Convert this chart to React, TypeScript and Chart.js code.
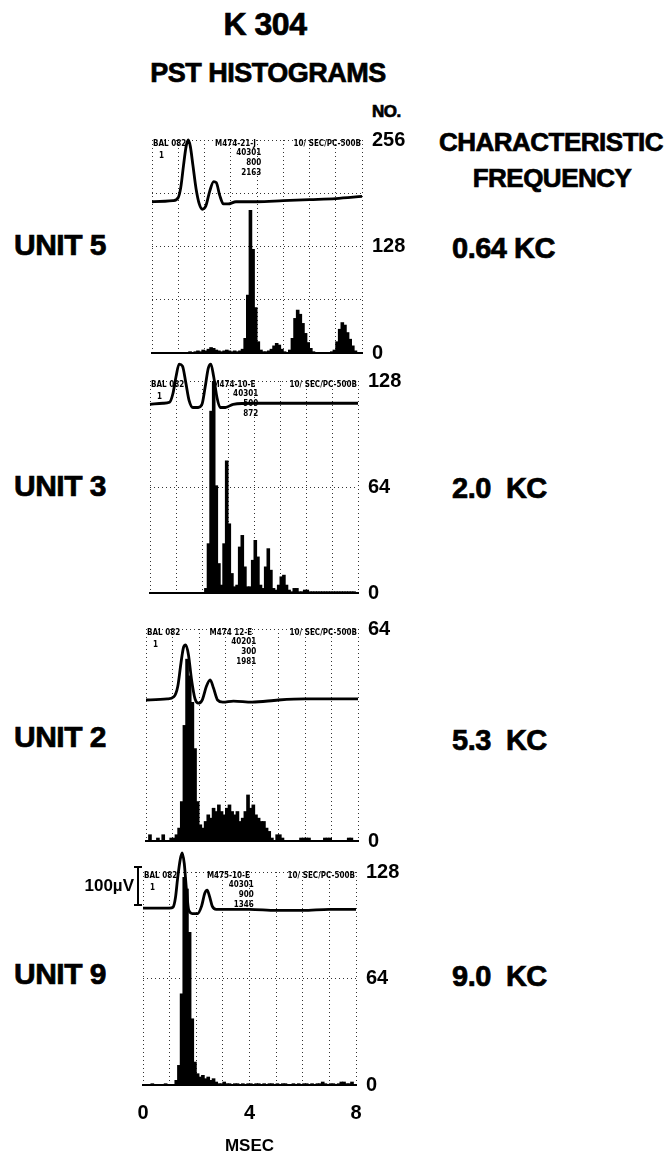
import React, { useEffect, useRef } from "react";
import { Chart, registerables } from "chart.js";

Chart.register(...registerables);

const FONT = '"Liberation Sans", Arimo, Arial, sans-serif';
const SMALL_FONT = '"Liberation Sans Narrow", "DejaVu Sans Condensed", "Liberation Sans", sans-serif';

// ---------- data ----------
const BIN_MS = 0.1; // histogram bin width (msec)
const TIME_TICKS_MS = [0, 1, 2, 3, 4, 5, 6, 7, 8];
const TIME_LABELS_MS = [0, 4, 8];
const X_TITLE = "MSEC";

const UNIT_NAMES = ["UNIT 5", "UNIT 3", "UNIT 2", "UNIT 9"];
const CF_LABELS = ["0.64 KC", "2.0  KC", "5.3  KC", "9.0  KC"];
const Y_MAX = [256, 128, 64, 128];
const Y_LABELS = [
  [0, 128, 256],
  [0, 64, 128],
  [0, 64],
  [0, 64, 128],
];
const RUN_CODES = ["M474-21-J", "M474-10-E", "M474 12-E", "M475-10-E"];
const RUN_NUMS = [
  ["40301", "800", "2163"],
  ["40301", "500", "872"],
  ["40201", "300", "1981"],
  ["40301", "900", "1346"],
];
const BAL_TEXT = "BAL 082";
const SETTINGS_TEXT = "10/ SEC/PC-500B";

// spike counts per 0.1 msec bin, 0 - 8 msec
const UNIT5_COUNTS = [
  0, 0, 0, 0, 0, 0, 0, 0, 0, 0,
  0, 0, 0, 1, 2, 1, 2, 3, 2, 4,
  3, 5, 7, 6, 4, 3, 2, 3, 4, 3,
  2, 3, 2, 3, 5, 18, 70, 172, 125, 55,
  14, 4, 2, 2, 3, 5, 9, 12, 10, 5,
  2, 1, 4, 18, 42, 52, 47, 36, 24, 13,
  6, 2, 1, 1, 1, 1, 1, 1, 2, 4,
  14, 29, 37, 34, 25, 17, 9, 3, 1, 1,
];
const UNIT3_COUNTS = [
  0, 0, 0, 0, 0, 0, 0, 0, 0, 0,
  0, 0, 0, 0, 0, 0, 0, 0, 0, 0,
  0, 3, 30, 110, 140, 65, 18, 5, 30, 80,
  42, 12, 4, 5, 28, 35, 16, 4, 4, 20,
  32, 22, 5, 3, 16, 27, 14, 3, 2, 5,
  10, 11, 5, 2, 1, 3, 3, 1, 1, 2,
  2, 1, 1, 1, 1, 1, 1, 1, 1, 1,
  1, 1, 1, 1, 1, 1, 1, 1, 1, 0,
];
const UNIT2_COUNTS = [
  0, 2, 0, 0, 1, 0, 2, 0, 0, 1,
  1, 2, 4, 12, 35, 55, 50, 42, 28, 12,
  5, 4, 6, 8, 7, 10, 9, 11, 9, 8,
  10, 11, 9, 8, 9, 6, 7, 9, 14, 10,
  11, 8, 7, 6, 6, 4, 3, 1, 0, 2,
  2, 1, 0, 0, 0, 0, 0, 0, 1, 1,
  1, 1, 0, 0, 0, 0, 0, 1, 1, 1,
  0, 0, 0, 0, 0, 0, 1, 1, 0, 0,
];
const UNIT9_COUNTS = [
  0, 0, 0, 1, 0, 0, 0, 0, 1, 0,
  0, 0, 3, 12, 55, 125, 118, 92, 40, 14,
  7, 5, 6, 4, 5, 3, 4, 2, 1, 1,
  2, 1, 1, 0, 1, 1, 0, 1, 0, 1,
  1, 0, 1, 1, 0, 1, 0, 1, 1, 0,
  1, 0, 1, 1, 0, 0, 1, 0, 1, 0,
  1, 1, 0, 1, 0, 1, 1, 2, 1, 0,
  1, 1, 0, 1, 2, 2, 1, 1, 2, 0,
];
const COUNTS = [UNIT5_COUNTS, UNIT3_COUNTS, UNIT2_COUNTS, UNIT9_COUNTS];

// averaged gross potential traces: [msec, relative level 0..100 of panel height]
type WavePoint = [number, number];
const UNIT5_WAVE: WavePoint[] = [
  [0, 71], [0.8, 71.5], [1.0, 73], [1.1, 78], [1.2, 88], [1.3, 97], [1.38, 100],
  [1.46, 97], [1.56, 88], [1.68, 77], [1.8, 70], [1.92, 67.5], [2.05, 69], [2.2, 76],
  [2.35, 80.5], [2.45, 80], [2.58, 74], [2.72, 70], [2.9, 70], [3.2, 71], [4, 71],
  [5, 71.5], [6, 72], [7, 72.5], [8, 73.5],
];
const UNIT3_WAVE: WavePoint[] = [
  [0, 89], [0.5, 89.5], [0.75, 90], [0.88, 94], [1.0, 102], [1.12, 108], [1.25, 107],
  [1.38, 99], [1.5, 91], [1.65, 87.5], [1.85, 87.5], [2.0, 89], [2.12, 97], [2.24, 106],
  [2.34, 108], [2.45, 102], [2.58, 92], [2.7, 87.5], [2.9, 87.5], [3.2, 89], [4, 89.5],
  [5, 89.5], [6, 89.5], [7, 89.5], [8, 89.5],
];
const UNIT2_WAVE: WavePoint[] = [
  [0, 66.5], [0.8, 67], [1.05, 68], [1.2, 73], [1.32, 84], [1.42, 91.5], [1.5, 92.5],
  [1.6, 88], [1.72, 76], [1.85, 67], [1.98, 65], [2.12, 66.5], [2.28, 73], [2.42, 76],
  [2.55, 72], [2.7, 66.5], [2.9, 65.5], [3.3, 66], [4.0, 65.5], [5, 66.5], [6, 67],
  [7, 67], [8, 67],
];
const UNIT9_WAVE: WavePoint[] = [
  [0, 83], [1.0, 83], [1.13, 83.5], [1.22, 88], [1.3, 97], [1.4, 106], [1.47, 109],
  [1.55, 104], [1.63, 92], [1.72, 82], [1.85, 80.5], [2.05, 80.5], [2.2, 84], [2.32, 90],
  [2.41, 91.5], [2.5, 88.5], [2.6, 84], [2.75, 82.5], [3.0, 82.5], [4, 82.5], [5, 82],
  [6, 82], [7, 82.5], [8, 82.5],
];
const WAVES = [UNIT5_WAVE, UNIT3_WAVE, UNIT2_WAVE, UNIT9_WAVE];

// ---------- layout (pixels) ----------
const PAGE_W = 670;
const PANEL_BOX = [
  { left: 152, right: 362, top: 140, bottom: 353 },
  { left: 150, right: 358, top: 381, bottom: 593 },
  { left: 146, right: 358, top: 629, bottom: 841 },
  { left: 143, right: 356, top: 872, bottom: 1085 },
];
const UNIT_LABEL_Y = [245, 486, 737, 974];
const CF_LABEL_Y = [248, 488, 740, 976];

function makeAnnotationPlugin(index: number) {
  return {
    id: "pstHeader" + index,
    afterDraw(chart: any) {
      const { ctx, chartArea: ca } = chart;
      const w = ca.right - ca.left;
      ctx.save();
      ctx.fillStyle = "#000";
      ctx.strokeStyle = "#000";
      ctx.font = `bold 8px ${SMALL_FONT}`;
      ctx.textBaseline = "middle";
      ctx.textAlign = "left";
      ctx.fillText(BAL_TEXT, ca.left + 1, ca.top + 4);
      ctx.fillText(RUN_CODES[index], ca.left + 0.3 * w, ca.top + 4);
      ctx.textAlign = "right";
      ctx.fillText(SETTINGS_TEXT, ca.right - 1, ca.top + 4);
      RUN_NUMS[index].forEach((s, k) => {
        ctx.fillText(s, ca.left + 0.52 * w, ca.top + 13 + 10 * k);
      });
      ctx.textAlign = "left";
      ctx.fillText("1", ca.left + 7, ca.top + 16);
      if (index === 3) {
        const bx = ca.left - 5;
        ctx.lineWidth = 2;
        ctx.beginPath();
        ctx.moveTo(bx, ca.top - 5);
        ctx.lineTo(bx, ca.top + 33);
        ctx.moveTo(bx - 4, ca.top - 5);
        ctx.lineTo(bx + 4, ca.top - 5);
        ctx.moveTo(bx - 4, ca.top + 33);
        ctx.lineTo(bx + 4, ca.top + 33);
        ctx.stroke();
        ctx.font = `bold 17px ${FONT}`;
        ctx.textAlign = "right";
        ctx.fillText("100\u00b5V", bx - 4, ca.top + 14);
      }
      ctx.restore();
    },
  };
}

function PstPanel({ index }: { index: number }) {
  const canvasRef = useRef<HTMLCanvasElement | null>(null);
  const box = PANEL_BOX[index];
  const isLast = index === PANEL_BOX.length - 1;
  const padTop = 48;
  const axisW = 60;
  const xAxisH = isLast ? 72 : 24;
  const canvasTop = box.top - padTop;
  const canvasH = box.bottom - box.top + padTop + xAxisH;

  useEffect(() => {
    const canvas = canvasRef.current;
    if (!canvas) return;
    const counts = COUNTS[index];
    const wave = WAVES[index];
    const binPx = ((box.right - box.left) / 8) * BIN_MS;
    const tickFont = { family: FONT, size: 20, weight: "bold" as const };
    const chart = new Chart(canvas, {
      type: "bar",
      data: {
        datasets: [
          {
            type: "line",
            data: wave.map(([t, v]) => ({ x: t, y: v })),
            xAxisID: "x",
            yAxisID: "v",
            borderColor: "#000",
            borderWidth: 2.8,
            pointRadius: 0,
            cubicInterpolationMode: "monotone",
            fill: false,
            clip: false,
            order: 0,
          } as any,
          {
            type: "bar",
            data: counts.map((c, i) => ({ x: (i + 0.5) * BIN_MS, y: c })),
            xAxisID: "x",
            yAxisID: "y",
            backgroundColor: "#000",
            borderWidth: 0,
            barThickness: binPx + 1,
            inflateAmount: 0,
            order: 1,
          } as any,
        ],
      },
      options: {
        responsive: false,
        animation: false,
        events: [],
        layout: {
          padding: { top: padTop, left: box.left, right: PAGE_W - box.right - axisW, bottom: 0 },
        },
        plugins: { legend: { display: false }, tooltip: { enabled: false } },
        scales: {
          x: {
            type: "linear",
            position: "bottom",
            min: 0,
            max: 8,
            offset: false,
            afterBuildTicks: (s: any) => {
              s.ticks = TIME_TICKS_MS.map((v) => ({ value: v }));
            },
            afterFit: (s: any) => {
              s.height = xAxisH;
            },
            grid: { display: true, color: "#333", lineWidth: 1, drawTicks: false, offset: false },
            border: { display: true, color: "#000", width: 2, dash: [1, 3] },
            ticks: {
              display: isLast,
              autoSkip: false,
              maxRotation: 0,
              padding: 16,
              color: "#000",
              font: tickFont,
              callback: (v: any) => (TIME_LABELS_MS.includes(Number(v)) ? String(v) : ""),
            },
            title: {
              display: isLast,
              text: X_TITLE,
              color: "#000",
              font: { family: FONT, size: 17, weight: "bold" },
              padding: { top: 4, bottom: 0 },
            },
          },
          y: {
            type: "linear",
            position: "right",
            min: 0,
            max: Y_MAX[index],
            afterFit: (s: any) => {
              s.width = axisW;
            },
            grid: { display: true, color: "#333", lineWidth: 1, drawTicks: false },
            border: { display: false, dash: [1, 3] },
            ticks: {
              stepSize: 64,
              padding: 10,
              color: "#000",
              font: tickFont,
              callback: (v: any) => (Y_LABELS[index].includes(Number(v)) ? String(v) : ""),
            },
          },
          v: { type: "linear", display: false, min: 0, max: 100 },
        },
      } as any,
      plugins: [makeAnnotationPlugin(index)],
    });
    return () => chart.destroy();
  }, [index]);

  return (
    <canvas
      ref={canvasRef}
      width={PAGE_W}
      height={canvasH}
      style={{ position: "absolute", left: 0, top: canvasTop, width: PAGE_W, height: canvasH }}
    />
  );
}

function Label({ x, y, text, size, center }: { x: number; y: number; text: string; size: number; center?: boolean }) {
  return (
    <div
      style={{
        position: "absolute",
        left: x,
        top: y,
        transform: `translate(${center ? "-50%" : "0"}, -50%)`,
        font: `bold ${size}px ${FONT}`,
        lineHeight: 1,
        whiteSpace: "pre",
        color: "#000",
        letterSpacing: "-0.5px",
        WebkitTextStroke: "0.7px #000",
      }}
    >
      {text}
    </div>
  );
}

export default function App() {
  return (
    <div style={{ position: "absolute", left: 0, top: 0, width: PAGE_W, height: 1157, background: "#fff", overflow: "hidden" }}>
      <Label x={265} y={24} text="K 304" size={32} center />
      <Label x={268} y={73} text="PST HISTOGRAMS" size={27} center />
      <Label x={372} y={111} text="NO." size={17} />
      <Label x={551} y={142} text="CHARACTERISTIC" size={26} center />
      <Label x={552} y={178} text="FREQUENCY" size={26} center />
      {UNIT_NAMES.map((u, i) => (
        <Label key={u} x={14} y={UNIT_LABEL_Y[i]} text={u} size={30} />
      ))}
      {CF_LABELS.map((c, i) => (
        <Label key={c} x={452} y={CF_LABEL_Y[i]} text={c} size={29} />
      ))}
      {PANEL_BOX.map((_, i) => (
        <PstPanel key={i} index={i} />
      ))}
    </div>
  );
}
